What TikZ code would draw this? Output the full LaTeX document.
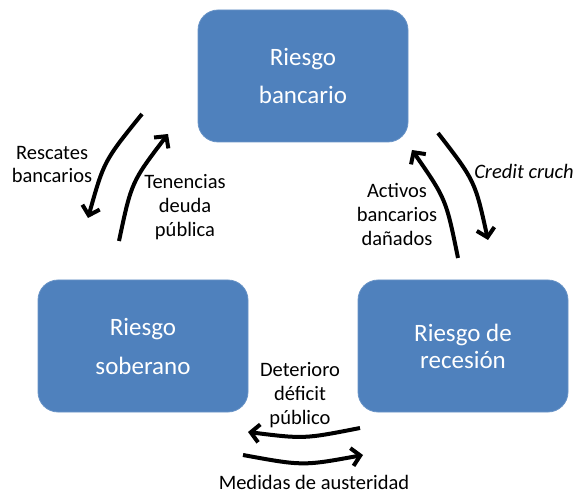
\documentclass[tikz,border=0pt]{standalone}
\usepackage{fontspec}
\setmainfont{Carlito}
\usetikzlibrary{arrows.meta}
\definecolor{boxblue}{HTML}{4F81BD}
\tikzset{
  riskbox/.style={fill=boxblue, draw=boxblue!85!white, line width=0.8pt, rounded corners=20pt,
    minimum width=210pt, minimum height=132pt, text=white, align=center, inner sep=0pt},
  lbl/.style={align=center, inner sep=0pt, font=\fontsize{20.5}{24}\selectfont},
  cyc/.style={line width=4pt, -{Straight Barb[length=8.5pt,width=18pt]}}
}
\begin{document}
\begin{tikzpicture}[x=1pt,y=-1pt]
\useasboundingbox (0,0) rectangle (578,494);
\node[riskbox, font=\fontsize{25}{38}\selectfont] (banc) at (303,76) {Riesgo\\bancario};
\node[riskbox, font=\fontsize{25}{39}\selectfont] (sob) at (143,346) {Riesgo\\soberano};
\node[riskbox, font=\fontsize{25}{27}\selectfont] (rec) at (463,346) {Riesgo de\\recesión};

\node[lbl] (resc) at (52,164.5) {Rescates\\bancarios};
\node[lbl] (ten) at (185,207) {Tenencias\\deuda\\pública};
\node[lbl, font=\fontsize{20.5}{24}\selectfont\itshape] (cred) at (524,171) {Credit cruch};
\node[lbl] (act) at (397,214) {Activos\\bancarios\\dañados};
\node[lbl] (det) at (300,395) {Deterioro\\déficit\\público};
\node[inner sep=0pt, font=\fontsize{20.5}{24}\selectfont, anchor=base] (med) at (314,489) {Medidas de austeridad};

\coordinate (a1s) at (142,114); \coordinate (a1e) at (88,218);
\coordinate (a2s) at (119,241); \coordinate (a2e) at (168,134);
\coordinate (a3s) at (438,133); \coordinate (a3e) at (488,240);
\coordinate (a4s) at (458,258); \coordinate (a4e) at (412,150);
\coordinate (a5s) at (360,428); \coordinate (a5e) at (248,432);
\coordinate (a6s) at (243,455); \coordinate (a6e) at (363,455);

\draw[cyc] (a1s) .. controls (104,161) .. (a1e);
\draw[cyc] (a2s) .. controls (131.5,182) .. (a2e);
\draw[cyc] (a3s) .. controls (475,181) .. (a3e);
\draw[cyc] (a4s) .. controls (446,199) .. (a4e);
\draw[cyc] (a5s) .. controls (304,439) .. (a5e);
\draw[cyc] (a6s) .. controls (303,466) .. (a6e);
\end{tikzpicture}
\end{document}
